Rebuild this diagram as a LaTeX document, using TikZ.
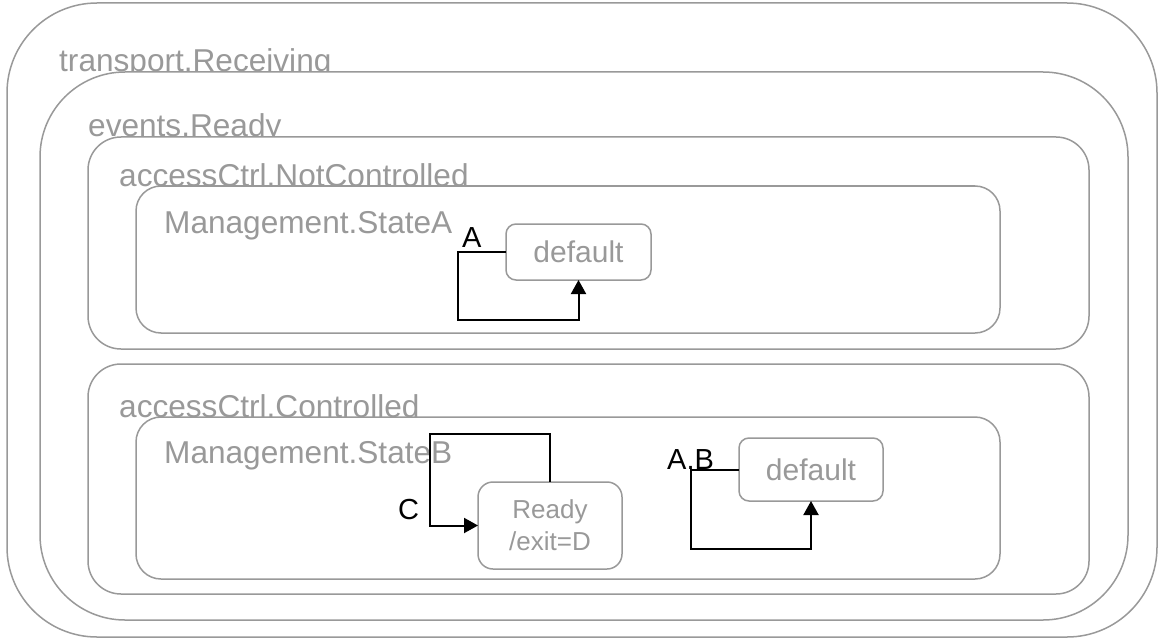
\documentclass[tikz,border=0pt]{standalone}
\usepackage{fontspec}
\setmainfont{Liberation Sans}
\usetikzlibrary{arrows.meta,positioning}

\begin{document}
\begin{tikzpicture}[x=1pt,y=-1pt,
  region/.style={draw=black!40, line width=1.5pt, fill=white, rectangle, inner sep=0pt, outer sep=0pt, anchor=north west},
  lbl/.style={anchor=base west, inner sep=0pt, text=black!40, font=\fontsize{31.6}{36}\selectfont},
  statebox/.style={draw=black!40, line width=1.5pt, fill=white, inner sep=0pt, outer sep=0pt, anchor=north west, text=black!40, align=center},
  trans/.style={draw=black, line width=2pt, -{Triangle[length=14pt,width=15pt]}},
  evt/.style={anchor=base west, inner sep=0pt, font=\fontsize{29}{34}\selectfont}]
\useasboundingbox (0,0) rectangle (1158,639);
\node[region, rounded corners=90pt, minimum width=1150pt, minimum height=634pt] (receiving) at (7,3) {};
\node[lbl] (receivingL) at (59,72) {transport.Receiving};
\node[region, rounded corners=85pt, minimum width=1088pt, minimum height=548pt] (ready) at (40,72) {};
\node[lbl] (readyL) at (88,137) {events.Ready};
% not controlled
\node[region, rounded corners=33pt, minimum width=1001pt, minimum height=212pt] (notctrl) at (88,137) {};
\node[lbl] (notctrlL) at (119,186) {accessCtrl.NotControlled};
\node[region, rounded corners=25pt, minimum width=864pt, minimum height=147pt] (stateA) at (136,186) {};
\node[lbl] (stateAL) at (164,233) {Management.StateA};
\node[statebox, rounded corners=10pt, minimum width=145pt, minimum height=56pt, font=\fontsize{30}{34}\selectfont] (defA) at (506,224) {default};
% controlled
\node[region, rounded corners=33pt, minimum width=1001pt, minimum height=230pt] (ctrl) at (88,364) {};
\node[lbl] (ctrlL) at (119,417) {accessCtrl.Controlled};
\node[region, rounded corners=25pt, minimum width=864pt, minimum height=162pt] (stateB) at (136,417) {};
\node[lbl] (stateBL) at (164,463) {Management.StateB};
\node[statebox, rounded corners=15pt, minimum width=144pt, minimum height=87pt, font=\fontsize{26}{32}\selectfont] (rdy) at (478,482) {Ready\\/exit=D};
\node[statebox, rounded corners=10pt, minimum width=144pt, minimum height=63pt, font=\fontsize{30}{34}\selectfont] (defB) at (739,438) {default};
% transitions
\coordinate (cornerA) at (458,320);
\draw[trans] (defA.west) -| (cornerA) -| (defA.south);
\node[evt] (evA) at (462,247) {A};
\coordinate (cornerC) at (430,434);
\draw[trans] (rdy.north) |- (cornerC) |- (rdy.west);
\node[evt] (evC) at (398,519) {C};
\coordinate (cornerAB) at (691,549);
\draw[trans] (defB.west) -| (cornerAB) -| (defB.south);
\node[evt] (evAB) at (667,469) {A.B};
\end{tikzpicture}
\end{document}
